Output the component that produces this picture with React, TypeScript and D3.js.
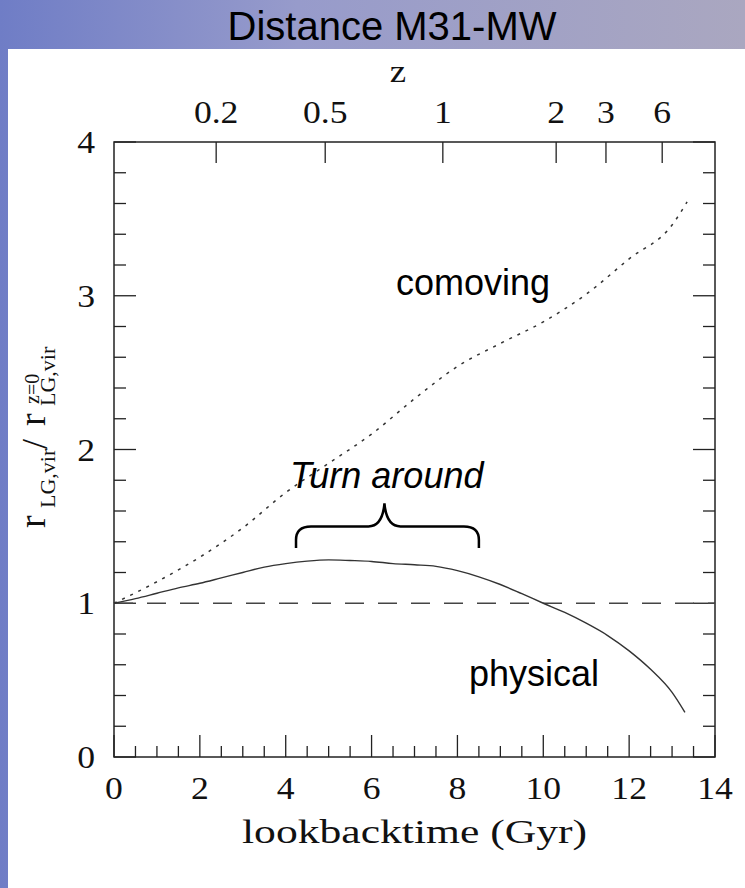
import React from "react";
import * as d3 from "d3";

// lookback time (Gyr) and r / r(z=0)
const physicalT = [0, 0.5, 1, 1.5, 2, 2.5, 3, 3.5, 4, 4.5, 5, 5.5, 6, 6.5, 7, 7.5, 8, 8.5, 9, 9.5, 10, 10.5, 11, 11.5, 12, 12.5, 13, 13.3];
const physicalR = [1.0, 1.03, 1.065, 1.1, 1.13, 1.165, 1.2, 1.235, 1.258, 1.274, 1.282, 1.278, 1.272, 1.258, 1.25, 1.24, 1.212, 1.172, 1.122, 1.062, 1.0, 0.94, 0.87, 0.79, 0.69, 0.57, 0.42, 0.29];

const comovingT = [0, 1, 2, 3, 4, 5, 6, 7, 8, 9, 10, 11, 12, 13, 13.35];
const comovingR = [1.0, 1.14, 1.3, 1.49, 1.72, 1.91, 2.1, 2.33, 2.54, 2.69, 2.83, 3.01, 3.24, 3.46, 3.61];

// redshift ticks on the top axis and their lookback time
const zLabels = ["0.2", "0.5", "1", "2", "3", "6"];
const zLookback = [2.38, 4.92, 7.66, 10.3, 11.46, 12.77];

const xTickLabels = [0, 2, 4, 6, 8, 10, 12, 14];
const yTickLabels = [0, 1, 2, 3, 4];

const W = 745;
const H = 888;
const margin = { top: 142, right: 30, bottom: 131, left: 114 };

const serif = "'Liberation Serif', serif";
const sans = "'Liberation Sans', Arial, sans-serif";

// serif labels in the figure are a bit wider than Times, so stretch them
function Label({ x, y, anchor = "middle", size = 31, children }: any) {
  return (
    <g transform={`translate(${x},${y}) scale(1.15,1)`}>
      <text x={0} y={0} textAnchor={anchor} fontFamily={serif} fontSize={size} fill="#111">
        {children}
      </text>
    </g>
  );
}

export default function App() {
  const x = d3.scaleLinear().domain([0, 14]).range([margin.left, W - margin.right]);
  const y = d3.scaleLinear().domain([0, 4]).range([H - margin.bottom, margin.top]);

  const line = d3
    .line<[number, number]>()
    .x(d => x(d[0]))
    .y(d => y(d[1]))
    .curve(d3.curveMonotoneX);

  const physical = line(physicalT.map((t, i) => [t, physicalR[i]]));
  const comoving = line(comovingT.map((t, i) => [t, comovingR[i]]));

  const [x0, x1] = x.range();
  const [y0, y1] = y.range();

  const xMinor = d3.range(0, 14.01, 0.5);
  const yMinor = d3.range(0, 4.01, 0.2);

  // brace over the turn around region
  const bl = x(4.24), br = x(8.5), bc = x(6.3);
  const by = y(1.36), bh = y(1.5), bt = y(1.65);
  const brace = `M${bl},${by} L${bl},${by - 8} Q${bl},${bh} ${bl + 15},${bh} L${bc - 16},${bh} Q${bc - 2},${bh} ${bc},${bt} Q${bc + 2},${bh} ${bc + 16},${bh} L${br - 15},${bh} Q${br},${bh} ${br},${by - 8} L${br},${by}`;

  return (
    <svg width={W} height={H} style={{ display: "block", position: "absolute", left: 0, top: 0 }}>
      <defs>
        <linearGradient id="bg" x1="0" x2="1" y1="0" y2="0">
          <stop offset="0" stopColor="#6f7dc6" />
          <stop offset="0.4" stopColor="#979bcb" />
          <stop offset="1" stopColor="#aaa7c0" />
        </linearGradient>
      </defs>
      <rect x={0} y={0} width={W} height={H} fill="url(#bg)" />
      <rect x={8} y={49} width={W - 8} height={H - 49} fill="#ffffff" />

      <text x={392} y={40} textAnchor="middle" fontFamily={sans} fontSize={40} fill="#000">
        Distance M31-MW
      </text>

      {/* frame */}
      <rect x={x0} y={y1} width={x1 - x0} height={y0 - y1} fill="none" stroke="#222" strokeWidth={1.5} />

      {/* bottom ticks */}
      {xMinor.map(t => {
        const major = Math.abs(t % 2) < 1e-6;
        return <line key={"bx" + t} x1={x(t)} x2={x(t)} y1={y0} y2={y0 - (major ? 22 : 11)} stroke="#222" strokeWidth={1.3} />;
      })}
      {/* left and right ticks */}
      {yMinor.map(v => {
        const major = Math.abs(v - Math.round(v)) < 1e-6;
        const len = major ? 22 : 12;
        return (
          <g key={"yt" + v}>
            <line x1={x0} x2={x0 + len} y1={y(v)} y2={y(v)} stroke="#222" strokeWidth={1.3} />
            <line x1={x1} x2={x1 - len} y1={y(v)} y2={y(v)} stroke="#222" strokeWidth={1.3} />
          </g>
        );
      })}
      {/* top redshift ticks */}
      {zLookback.map((t, i) => (
        <g key={"z" + i}>
          <line x1={x(t)} x2={x(t)} y1={y1} y2={y1 + 21} stroke="#222" strokeWidth={1.3} />
          <Label x={x(t)} y={123}>{zLabels[i]}</Label>
        </g>
      ))}
      <Label x={398} y={82} size={32}>z</Label>

      {xTickLabels.map(t => (
        <Label key={"xl" + t} x={x(t)} y={799}>{t}</Label>
      ))}
      {yTickLabels.map(v => (
        <Label key={"yl" + v} x={95} y={y(v) + 11} anchor="end">{v}</Label>
      ))}

      <text x={(x0 + x1) / 2} y={843} textAnchor="middle" fontFamily={serif} fontSize={34} fill="#111"
        textLength={345} lengthAdjust="spacingAndGlyphs">
        lookbacktime (Gyr)
      </text>

      {/* y axis title, read bottom to top */}
      <g transform="translate(45,528) rotate(-90)" fontFamily={serif} fill="#111">
        <text x={0} y={0} fontSize={38}>r</text>
        <text x={20} y={10} fontSize={22}>LG,vir</text>
        <text x={79} y={2} fontSize={36}>/</text>
        <text x={102} y={0} fontSize={38}>r</text>
        <text x={124} y={-6} fontSize={20}>z=0</text>
        <text x={122} y={10} fontSize={22}>LG,vir</text>
      </g>

      {/* reference line at 1 */}
      <line x1={x0} x2={x1} y1={y(1)} y2={y(1)} stroke="#444" strokeWidth={1.3} strokeDasharray="19,14" />

      <path d={comoving ?? ""} fill="none" stroke="#333" strokeWidth={1.5} strokeDasharray="3,6" />
      <path d={physical ?? ""} fill="none" stroke="#333" strokeWidth={1.4} />

      <path d={brace} fill="none" stroke="#000" strokeWidth={2.5} />

      <text x={396} y={295} fontFamily={sans} fontSize={36} fill="#000">
        comoving
      </text>
      <text x={290} y={488} fontFamily={sans} fontSize={36} fontStyle="italic" fill="#000">
        Turn around
      </text>
      <text x={469} y={686} fontFamily={sans} fontSize={36} fill="#000">
        physical
      </text>
    </svg>
  );
}
